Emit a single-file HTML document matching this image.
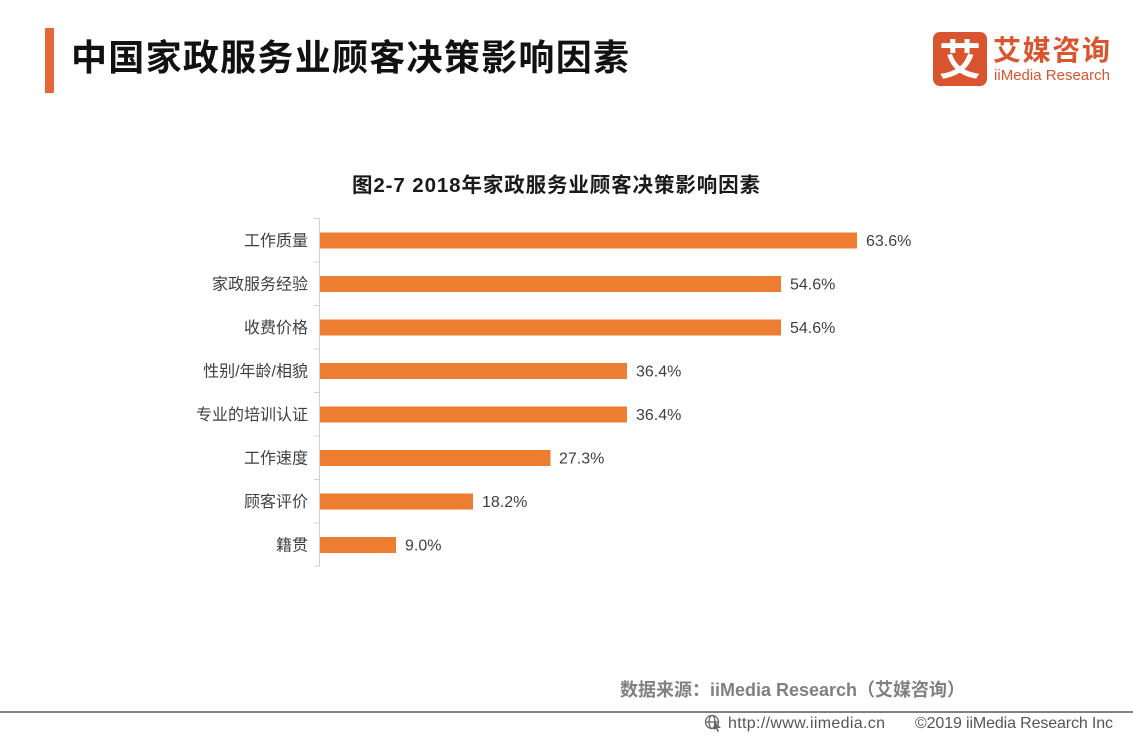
<!DOCTYPE html>
<html>
<head>
<meta charset="utf-8">
<style>
  html,body{margin:0;padding:0;background:#fff;}
  body{width:1133px;height:737px;overflow:hidden;}
  svg{display:block;}
  text{font-family:"Liberation Sans","Noto Sans CJK SC",sans-serif;}
</style>
</head>
<body>
<svg width="1133" height="737" viewBox="0 0 1133 737" xmlns="http://www.w3.org/2000/svg">
  <rect width="1133" height="737" fill="#ffffff"/>

  <!-- Header -->
  <rect x="45" y="28" width="9" height="65" fill="#E8673A"/>
  <text x="71" y="70" font-size="36" font-weight="bold" fill="#111" textLength="558" lengthAdjust="spacing">中国家政服务业顾客决策影响因素</text>

  <!-- Logo -->
  <rect x="933" y="32" width="54" height="54" rx="7" fill="#D9552F"/>
  <text x="960" y="75" font-size="42" font-weight="bold" fill="#ffffff" text-anchor="middle">艾</text>
  <text x="993" y="60" font-size="28" font-weight="bold" fill="#D9552F" textLength="117" lengthAdjust="spacing">艾媒咨询</text>
  <text x="994" y="80" font-size="15" fill="#D9552F" textLength="116" lengthAdjust="spacing">iiMedia Research</text>

  <!-- Chart title -->
  <text x="352" y="192" font-size="20.5" font-weight="bold" fill="#1a1a1a" textLength="408" lengthAdjust="spacing">图2-7  2018年家政服务业顾客决策影响因素</text>

  <!-- Axis -->
  <line x1="319.5" y1="218" x2="319.5" y2="566" stroke="#d0d0d0" stroke-width="1"/>
  <g stroke="#d0d0d0" stroke-width="1">
    <line x1="314" y1="218.5" x2="319.5" y2="218.5"/>
    <line x1="314" y1="262" x2="319.5" y2="262"/>
    <line x1="314" y1="305.5" x2="319.5" y2="305.5"/>
    <line x1="314" y1="349" x2="319.5" y2="349"/>
    <line x1="314" y1="392.5" x2="319.5" y2="392.5"/>
    <line x1="314" y1="436" x2="319.5" y2="436"/>
    <line x1="314" y1="479.5" x2="319.5" y2="479.5"/>
    <line x1="314" y1="523" x2="319.5" y2="523"/>
    <line x1="314" y1="566" x2="319.5" y2="566"/>
  </g>

  <!-- Bars -->
  <g fill="#ED7D31">
    <rect x="320" y="232.5" width="537" height="16"/>
    <rect x="320" y="276" width="461" height="16"/>
    <rect x="320" y="319.5" width="461" height="16"/>
    <rect x="320" y="363" width="307" height="16"/>
    <rect x="320" y="406.5" width="307" height="16"/>
    <rect x="320" y="450" width="230.5" height="16"/>
    <rect x="320" y="493.5" width="153" height="16"/>
    <rect x="320" y="537" width="76" height="16"/>
  </g>

  <!-- Category labels -->
  <g font-size="16" fill="#404040" text-anchor="end">
    <text x="308" y="246">工作质量</text>
    <text x="308" y="289.5">家政服务经验</text>
    <text x="308" y="333">收费价格</text>
    <text x="308" y="376.5">性别/年龄/相貌</text>
    <text x="308" y="420">专业的培训认证</text>
    <text x="308" y="463.5">工作速度</text>
    <text x="308" y="507">顾客评价</text>
    <text x="308" y="550.5">籍贯</text>
  </g>

  <!-- Value labels -->
  <g font-size="16" fill="#404040">
    <text x="866" y="246">63.6%</text>
    <text x="790" y="289.5">54.6%</text>
    <text x="790" y="333">54.6%</text>
    <text x="636" y="376.5">36.4%</text>
    <text x="636" y="420">36.4%</text>
    <text x="559" y="463.5">27.3%</text>
    <text x="482" y="507">18.2%</text>
    <text x="405" y="550.5">9.0%</text>
  </g>

  <!-- Source -->
  <text x="620" y="696" font-size="18" font-weight="bold" fill="#808080" textLength="345" lengthAdjust="spacing">数据来源：iiMedia Research（艾媒咨询）</text>

  <!-- Footer line -->
  <rect x="0" y="711" width="1133" height="2" fill="#808080"/>

  <!-- Footer -->
  <g fill="none" stroke="#666" stroke-width="1.3">
    <circle cx="712" cy="722" r="6.5"/>
    <ellipse cx="712" cy="722" rx="3" ry="6.5"/>
    <line x1="705.5" y1="722" x2="718.5" y2="722"/>
  </g>
  <path d="M714 721 L721 728 L717.5 728 L719 731.5 L717.5 732 L716 728.5 L714 730 Z" fill="#666"/>
  <text x="728" y="728" font-size="16" fill="#555" textLength="157" lengthAdjust="spacing">http://www.iimedia.cn</text>
  <text x="915" y="728" font-size="16" fill="#555" textLength="198" lengthAdjust="spacing">©2019  iiMedia Research  Inc</text>
</svg>
</body>
</html>
